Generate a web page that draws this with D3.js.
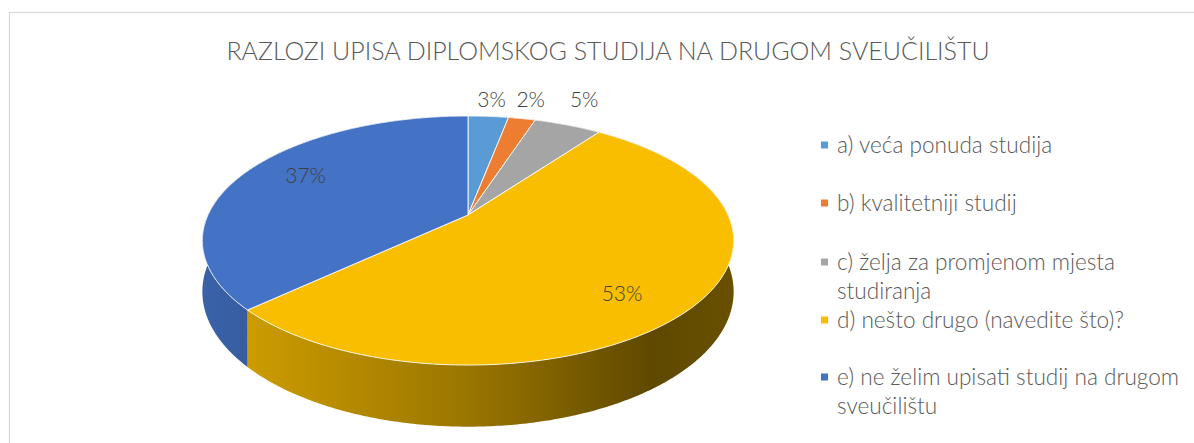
<!DOCTYPE html>
<html>
<head>
<meta charset="utf-8">
<script src="https://cdn.jsdelivr.net/npm/d3@7"></script>
<style>
  body { margin: 0; background: #fff; }
  text { font-family: Lato, "Open Sans", sans-serif; font-weight: 300; }
</style>
</head>
<body>
<script>
// data
var categories = ["a) veća ponuda studija", "b) kvalitetniji studij", "c) želja za promjenom mjesta studiranja",
                  "d) nešto drugo (navedite što)?", "e) ne želim upisati studij na drugom sveučilištu"]
var values = [3, 2, 5, 53, 37]
var colors = ["#5B9BD5", "#ED7D31", "#A5A5A5", "#F9BE00", "#4472C4"]
var legendLines = [["a) veća ponuda studija"], ["b) kvalitetniji studij"], ["c) želja za promjenom mjesta", "studiranja"],
                   ["d) nešto drugo (navedite što)?"], ["e) ne želim upisati studij na drugom", "sveučilištu"]]
var title = "RAZLOZI UPISA DIPLOMSKOG STUDIJA NA DRUGOM SVEUČILIŠTU"

var width = 1194, height = 443

var svg = d3.select("body").append("svg")
    .attr("width", width)
    .attr("height", height)

// chart frame
svg.append("rect")
    .attr("x", 9.5).attr("y", 12.5)
    .attr("width", 1300).attr("height", 600)
    .attr("fill", "none").attr("stroke", "#d9d9d9").attr("stroke-width", 1.2)

svg.append("text")
    .attr("x", 608).attr("y", 60)
    .attr("text-anchor", "middle")
    .attr("font-size", 25)
    .attr("fill", "#595959")
    .text(title)

var color = d3.scaleOrdinal().domain(categories).range(colors)

var pie = d3.pie().sort(null).value(function(d){ return d.value })
var slices = pie(categories.map(function(c, i){ return {name: c, value: values[i]} }))

// perspective ellipse
var cx = 468, cy = 215, R = 260, S = 119.3, H = 49, k = 0.205

function proj(a, r, z){
    var X = r*Math.sin(a), Y = r*Math.cos(a)
    var w = 1 + k*Y
    return [cx + R*X/w, cy + (-S*Y + H*z)/w]
}

function arcPts(s, z){
    var pts = []
    var n = Math.max(2, Math.ceil((s.endAngle - s.startAngle)/0.01))
    for (var i = 0; i <= n; i++){
        pts.push(proj(s.startAngle + (s.endAngle - s.startAngle)*i/n, 1, z))
    }
    return pts
}

var g = svg.append("g")
var defs = svg.append("defs")

// side shading: lighter on the left, darker on the right
slices.forEach(function(s, i){
    var grad = defs.append("linearGradient")
        .attr("id", "side" + i)
        .attr("gradientUnits", "userSpaceOnUse")
        .attr("x1", cx - R*1.02).attr("x2", cx + R*1.02)
        .attr("y1", 0).attr("y2", 0)
    grad.append("stop").attr("offset", 0).attr("stop-color", d3.interpolateRgb("#000", color(s.data.name))(0.86))
    grad.append("stop").attr("offset", 0.5).attr("stop-color", d3.interpolateRgb("#000", color(s.data.name))(0.62))
    grad.append("stop").attr("offset", 0.85).attr("stop-color", d3.interpolateRgb("#000", color(s.data.name))(0.38))
    grad.append("stop").attr("offset", 1).attr("stop-color", d3.interpolateRgb("#000", color(s.data.name))(0.42))
})

g.selectAll("path.side").data(slices).enter().append("path")
    .attr("class", "side")
    .attr("d", function(s){
        var top = arcPts(s, 0)
        var bot = arcPts(s, 1).reverse()
        return "M" + top.concat(bot).join("L") + "Z"
    })
    .attr("fill", function(s, i){ return "url(#side" + i + ")" })

// top faces
g.selectAll("path.top").data(slices).enter().append("path")
    .attr("class", "top")
    .attr("d", function(s){
        return "M" + [proj(0,0,0)].concat(arcPts(s, 0)).join("L") + "Z"
    })
    .attr("fill", function(s){ return color(s.data.name) })
    .attr("stroke", "#fff")
    .attr("stroke-opacity", 0.85)
    .attr("stroke-width", 1)
    .attr("stroke-linejoin", "round")

// data labels: big slices inside, small ones above the rim
g.selectAll("text.lab").data(slices).enter().append("text")
    .attr("class", "lab")
    .attr("text-anchor", "middle")
    .attr("font-size", 21)
    .attr("fill", "#404040")
    .attr("x", function(s){
        var a = (s.startAngle + s.endAngle)/2
        var p = s.data.value > 10 ? proj(a + 0.1, 0.77, 0) : proj(a, 1.2, 0)
        return p[0]
    })
    .attr("y", function(s){
        var a = (s.startAngle + s.endAngle)/2
        if (s.data.value > 10) return proj(a + 0.1, 0.77, 0)[1] + 10
        return proj(0, 1, 0)[1] - 9
    })
    .text(function(s){ return s.data.value + "%" })

// legend
var rowY = [145, 203, 262, 320, 377]
var legend = svg.append("g")
legend.selectAll("rect").data(categories).enter().append("rect")
    .attr("x", 821).attr("y", function(d, i){ return rowY[i] - 3.5 })
    .attr("width", 7).attr("height", 7)
    .attr("fill", function(d){ return color(d) })

legend.selectAll("text").data(legendLines).enter().append("text")
    .attr("x", 837)
    .attr("y", function(d, i){ return rowY[i] + 7.5 })
    .attr("font-size", 22.6)
    .attr("fill", "#595959")
    .each(function(lines){
        var t = d3.select(this)
        lines.forEach(function(l, j){
            t.append("tspan").attr("x", 837).attr("dy", j == 0 ? 0 : 29).text(l)
        })
    })
</script>
</body>
</html>
